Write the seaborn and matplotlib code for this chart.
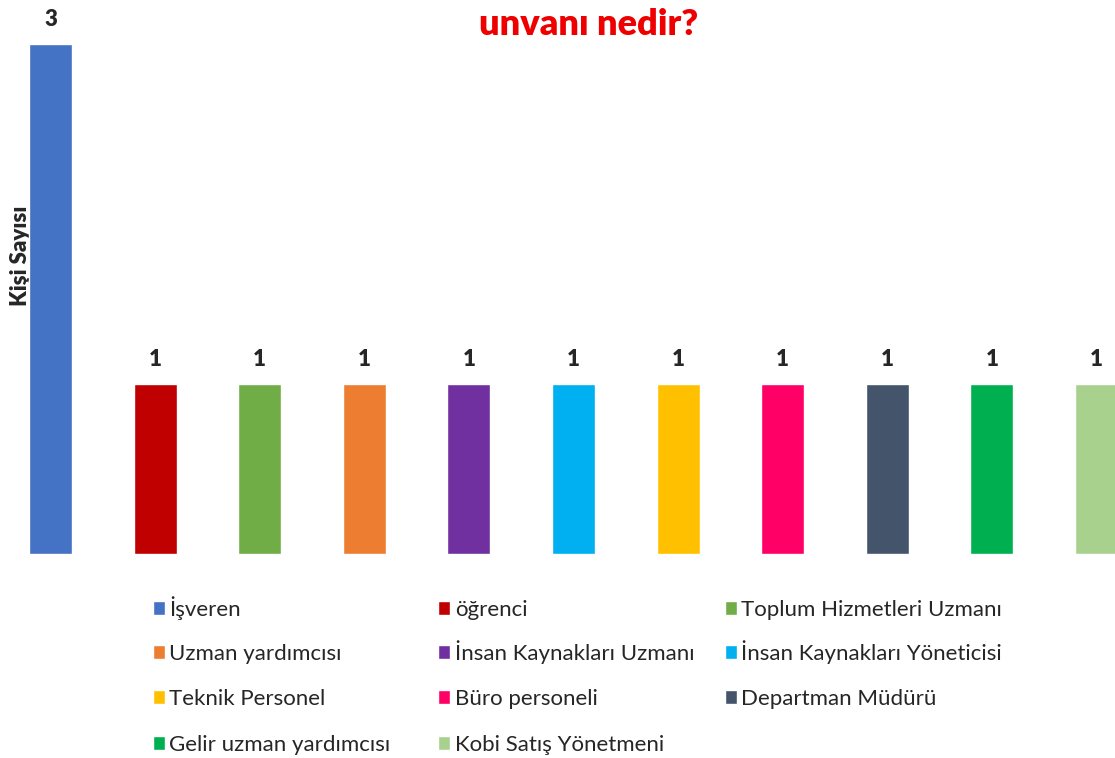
import matplotlib
matplotlib.use('Agg')
import matplotlib.pyplot as plt
import seaborn as sns
import pandas as pd
from matplotlib.patches import Patch

kategoriler = ['İşveren', 'öğrenci', 'Toplum Hizmetleri Uzmanı', 'Uzman yardımcısı',
               'İnsan Kaynakları Uzmanı', 'İnsan Kaynakları Yöneticisi', 'Teknik Personel',
               'Büro personeli', 'Departman Müdürü', 'Gelir uzman yardımcısı',
               'Kobi Satış Yönetmeni']
kisi_sayisi = [3, 1, 1, 1, 1, 1, 1, 1, 1, 1, 1]
renkler = ['#4472C4', '#C00000', '#70AD47', '#ED7D31', '#7030A0', '#00B0F0',
           '#FFC000', '#FF0066', '#44546A', '#00B050', '#A9D18E']

sns.set_style('white')
plt.rcParams['font.family'] = ['Lato', 'DejaVu Sans']

data = pd.DataFrame({'Unvan': kategoriler, 'Kisi': kisi_sayisi})

fig = plt.figure(figsize=(11.15, 7.58), dpi=100)
ax = fig.add_axes([0, 0.2691, 1, 0.7289])

sns.barplot(data=data, x='Unvan', y='Kisi', hue='Unvan', palette=renkler,
            width=0.41, dodge=False, legend=False, ax=ax, saturation=1)

for i, v in enumerate(kisi_sayisi):
    ax.text(i, v + 0.08, str(v), ha='center', va='bottom', fontsize=16, fontweight='heavy')

ax.set_xlim(-0.483, 10.177)
ax.set_ylim(0, 3.25)
ax.set_xticks([])
ax.set_yticks([])
ax.set_xlabel('')
ax.set_ylabel('Kişi Sayısı', fontsize=16, fontweight='heavy')
ax.yaxis.set_label_coords(0.028, 0.54)
sns.despine(ax=ax, left=True, bottom=True)

fig.text(0.528, 0.968, 'unvanı nedir?', ha='center', va='center', color='#EE0000',
         fontsize=26, fontweight='heavy')

# legend: 3 columns x 4 rows, row-major, each entry anchored at its bottom so rows line up
kolon_x = [0.137, 0.393, 0.650]
satir_y = [0.182, 0.124, 0.065, 0.004]
for k, etiket in enumerate(kategoriler):
    fig.legend(handles=[Patch(facecolor=renkler[k], label=etiket)], loc='lower left',
               bbox_to_anchor=(kolon_x[k % 3], satir_y[k // 3]),
               frameon=False, fontsize=16, handlelength=0.55, handleheight=0.55,
               handletextpad=0.2, borderpad=0, borderaxespad=0)

plt.savefig('out.png', dpi=100)
